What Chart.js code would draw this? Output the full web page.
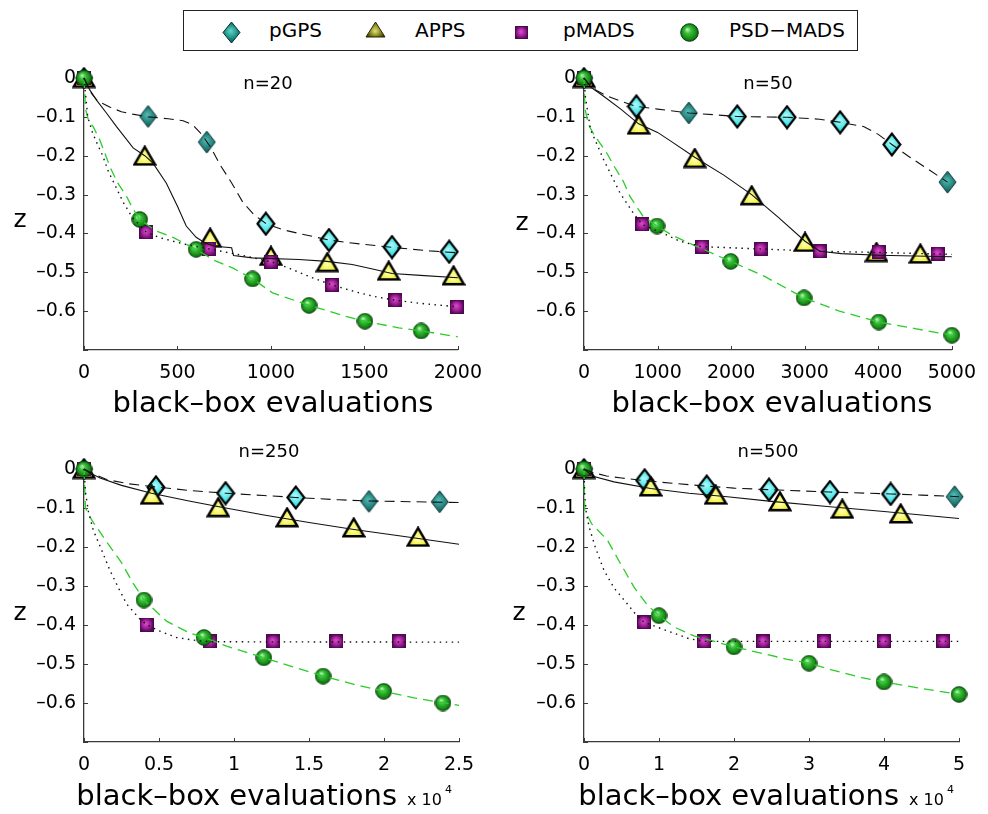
<!DOCTYPE html>
<html>
<head>
<meta charset="utf-8">
<script src="https://cdn.jsdelivr.net/npm/chart.js@4.4.1/dist/chart.umd.min.js"></script>
<style>
  html, body { margin: 0; padding: 0; background: #fff; }
  body { width: 988px; height: 814px; position: relative; overflow: hidden; font-family: "DejaVu Sans", sans-serif; }
  canvas.panel { position: absolute; }
  #legend { position: absolute; left: 183px; top: 10px; width: 673px; height: 39px; border: 1px solid #222; background: #fff; }
  #legend span { position: absolute; top: 0; line-height: 39px; font-size: 20px; color: #000; white-space: nowrap; }
  #legend canvas { position: absolute; }
</style>
</head>
<body>
<div id="legend"></div>
<canvas id="p20" class="panel"></canvas>
<canvas id="p50" class="panel"></canvas>
<canvas id="p250" class="panel"></canvas>
<canvas id="p500" class="panel"></canvas>
<script>
// series + labels
const seriesNames = ['pGPS', 'APPS', 'pMADS', 'PSD\u2212MADS'];
const panelTitles = ['n=20', 'n=50', 'n=250', 'n=500'];
const xTitle = 'black\u2013box evaluations';
const yTitle = 'z';

// n=20 (x = evaluations)
const n20_pGPS_curve = [[0,0],[40,-0.04],[75,-0.06],[140,-0.075],[200,-0.087],[260,-0.093],[343,-0.1],[450,-0.105],[530,-0.11],[580,-0.12],[630,-0.145],[680,-0.18],[730,-0.225],[790,-0.27],[850,-0.32],[910,-0.352],[975,-0.375],[1060,-0.39],[1150,-0.4],[1310,-0.417],[1420,-0.424],[1650,-0.436],[1850,-0.445],[2000,-0.45]];
const n20_pGPS_marks = [[0,0],[343,-0.099],[657,-0.165],[973,-0.375],[1311,-0.417],[1648,-0.435],[1954,-0.447]];
const n20_APPS_curve = [[0,0],[30,-0.03],[67,-0.057],[120,-0.09],[174,-0.125],[263,-0.18],[325,-0.2],[369,-0.219],[440,-0.27],[500,-0.33],[547,-0.381],[600,-0.41],[650,-0.425],[700,-0.433],[790,-0.437],[800,-0.457],[900,-0.463],[1150,-0.467],[1300,-0.472],[1435,-0.48],[1550,-0.492],[1648,-0.503],[1800,-0.508],[2000,-0.514]];
const n20_APPS_marks = [[0,0],[325,-0.2],[675,-0.411],[1000,-0.458],[1302,-0.474],[1630,-0.496],[1977,-0.508]];
const n20_pMADS_curve = [[0,0],[10,-0.05],[20,-0.1],[45,-0.14],[67,-0.165],[100,-0.2],[130,-0.24],[170,-0.28],[210,-0.32],[260,-0.36],[334,-0.397],[400,-0.41],[476,-0.42],[560,-0.43],[671,-0.44],[800,-0.452],[900,-0.462],[1000,-0.473],[1100,-0.49],[1200,-0.51],[1328,-0.533],[1450,-0.55],[1550,-0.562],[1666,-0.572],[1800,-0.58],[2000,-0.589]];
const n20_pMADS_marks = [[0,0],[334,-0.397],[671,-0.44],[1000,-0.473],[1328,-0.533],[1666,-0.572],[1994,-0.589]];
const n20_PSD_curve = [[0,0],[8,-0.08],[25,-0.11],[50,-0.126],[85,-0.16],[112,-0.194],[139,-0.229],[180,-0.27],[227,-0.304],[260,-0.335],[298,-0.364],[387,-0.394],[476,-0.41],[600,-0.441],[700,-0.47],[800,-0.49],[902,-0.517],[1009,-0.553],[1204,-0.585],[1399,-0.613],[1503,-0.626],[1684,-0.643],[1804,-0.651],[2000,-0.666]];
const n20_PSD_marks = [[0,0],[298,-0.364],[600,-0.441],[902,-0.517],[1204,-0.585],[1503,-0.626],[1804,-0.651]];

// n=50 (x = evaluations)
const n50_pGPS_curve = [[0,0],[100,-0.025],[300,-0.045],[500,-0.06],[712,-0.073],[1000,-0.08],[1425,-0.09],[1800,-0.095],[2084,-0.099],[2760,-0.101],[3200,-0.106],[3482,-0.114],[3800,-0.125],[4000,-0.145],[4185,-0.171],[4400,-0.2],[4600,-0.225],[4942,-0.268]];
const n50_pGPS_marks = [[0,0],[712,-0.073],[1425,-0.09],[2084,-0.099],[2760,-0.101],[3482,-0.114],[4185,-0.171],[4942,-0.268]];
const n50_APPS_curve = [[0,0],[100,-0.025],[267,-0.047],[500,-0.08],[743,-0.118],[1000,-0.14],[1200,-0.165],[1505,-0.204],[1900,-0.25],[2279,-0.3],[2650,-0.36],[3005,-0.42],[3206,-0.446],[3500,-0.452],[4000,-0.456],[4500,-0.458],[5000,-0.46]];
const n50_APPS_marks = [[0,0],[743,-0.12],[1505,-0.206],[2279,-0.302],[3005,-0.422],[3976,-0.448],[4572,-0.452]];
const n50_pMADS_curve = [[0,0],[20,-0.05],[89,-0.133],[267,-0.21],[490,-0.296],[668,-0.347],[792,-0.377],[1113,-0.403],[1300,-0.42],[1603,-0.434],[2404,-0.44],[3206,-0.446],[4007,-0.449],[5000,-0.454]];
const n50_pMADS_marks = [[0,0],[792,-0.377],[1603,-0.434],[2404,-0.44],[3206,-0.446],[4007,-0.447],[4808,-0.452]];
const n50_PSD_curve = [[0,0],[15,-0.08],[60,-0.12],[150,-0.15],[300,-0.19],[423,-0.231],[534,-0.266],[623,-0.304],[712,-0.33],[800,-0.355],[993,-0.381],[1200,-0.405],[1469,-0.428],[1994,-0.472],[2449,-0.51],[2992,-0.566],[3472,-0.6],[4007,-0.628],[4500,-0.645],[5000,-0.662]];
const n50_PSD_marks = [[0,0],[993,-0.381],[1994,-0.472],[2992,-0.566],[4007,-0.628],[5000,-0.662]];

// n=250 (x = evaluations / 10^4)
const n250_pGPS_curve = [[0,0],[0.05,-0.01],[0.151,-0.027],[0.3,-0.038],[0.48,-0.046],[0.7,-0.055],[0.944,-0.062],[1.2,-0.068],[1.412,-0.073],[1.7,-0.079],[1.9,-0.082],[2.2,-0.084],[2.5,-0.086]];
const n250_pGPS_marks = [[0,0],[0.48,-0.047],[0.944,-0.062],[1.412,-0.073],[1.9,-0.083],[2.371,-0.084]];
const n250_APPS_curve = [[0,0],[0.03,-0.008],[0.107,-0.023],[0.25,-0.042],[0.45,-0.062],[0.7,-0.082],[0.9,-0.097],[1.2,-0.118],[1.5,-0.137],[1.8,-0.155],[2.1,-0.171],[2.5,-0.193]];
const n250_APPS_marks = [[0,0],[0.451,-0.066],[0.895,-0.098],[1.354,-0.124],[1.798,-0.15],[2.227,-0.174]];
const n250_pMADS_curve = [[0,0],[0.01,-0.06],[0.03,-0.11],[0.062,-0.157],[0.12,-0.21],[0.173,-0.26],[0.23,-0.305],[0.284,-0.346],[0.373,-0.385],[0.417,-0.399],[0.5,-0.415],[0.617,-0.432],[0.75,-0.44],[0.85,-0.443],[2.5,-0.444]];
const n250_pMADS_marks = [[0,0],[0.417,-0.399],[0.839,-0.442],[1.261,-0.442],[1.683,-0.442],[2.1,-0.442]];
const n250_PSD_curve = [[0,0],[0.005,-0.05],[0.01,-0.1],[0.05,-0.13],[0.151,-0.187],[0.25,-0.24],[0.329,-0.294],[0.4,-0.336],[0.55,-0.39],[0.7,-0.42],[0.8,-0.432],[0.95,-0.454],[1.199,-0.484],[1.372,-0.505],[1.594,-0.531],[1.8,-0.552],[1.998,-0.57],[2.2,-0.587],[2.5,-0.606]];
const n250_PSD_marks = [[0,0],[0.4,-0.336],[0.8,-0.432],[1.199,-0.484],[1.594,-0.531],[1.998,-0.57],[2.393,-0.6]];

// n=500 (x = evaluations / 10^4)
const n500_pGPS_curve = [[0,0],[0.1,-0.008],[0.3,-0.018],[0.5,-0.023],[0.809,-0.03],[1.2,-0.037],[1.636,-0.044],[2,-0.049],[2.467,-0.053],[3.28,-0.059],[4.089,-0.064],[4.5,-0.067],[5,-0.071]];
const n500_pGPS_marks = [[0,0],[0.809,-0.029],[1.636,-0.045],[2.467,-0.053],[3.28,-0.059],[4.089,-0.064],[4.942,-0.071]];
const n500_APPS_curve = [[0,0],[0.05,-0.008],[0.133,-0.019],[0.4,-0.033],[0.889,-0.05],[1.4,-0.062],[1.911,-0.071],[2.5,-0.083],[3.244,-0.096],[4,-0.109],[4.5,-0.118],[5,-0.127]];
const n500_APPS_marks = [[0,0],[0.889,-0.045],[1.756,-0.066],[2.613,-0.083],[3.444,-0.102],[4.222,-0.114]];
const n500_pMADS_curve = [[0,0],[0.01,-0.07],[0.03,-0.11],[0.067,-0.148],[0.15,-0.2],[0.267,-0.26],[0.4,-0.305],[0.578,-0.346],[0.7,-0.375],[0.8,-0.393],[1.111,-0.415],[1.4,-0.435],[1.6,-0.442],[5,-0.442]];
const n500_pMADS_marks = [[0,0],[0.8,-0.393],[1.6,-0.442],[2.391,-0.442],[3.2,-0.442],[4,-0.442],[4.791,-0.442]];
const n500_PSD_curve = [[0,0],[0.005,-0.06],[0.01,-0.105],[0.1,-0.14],[0.311,-0.182],[0.45,-0.23],[0.667,-0.303],[0.85,-0.35],[1,-0.376],[1.2,-0.405],[1.467,-0.428],[2,-0.456],[2.711,-0.488],[3,-0.498],[3.3,-0.515],[3.7,-0.535],[4,-0.546],[4.5,-0.563],[5,-0.578]];
const n500_PSD_marks = [[0,0],[1,-0.376],[2,-0.456],[3,-0.498],[4,-0.546],[5,-0.578]];

// axis ranges
const xMaxes = [2000, 5000, 2.5, 5];
const xSteps = [500, 1000, 0.5, 1];
const xExponents = ['', '', '4', '4'];

Chart.defaults.font.family = '"DejaVu Sans", sans-serif';

// ---- marker images (shaded like the 3d matlab markers)
function makeMarker(w, h, paint) {
  const c = document.createElement('canvas');
  c.width = w; c.height = h;
  paint(c.getContext('2d'), w, h);
  return c;
}
function shade(ctx, w, h, cx, cy, stops) {
  const g = ctx.createRadialGradient(cx, cy, 0.5, w / 2, h / 2, Math.max(w, h) / 2);
  stops.forEach(([o, col]) => g.addColorStop(o, col));
  return g;
}
function diamond(w, h, stops, stroke, lw) {
  return makeMarker(w, h, (ctx) => {
    const m = lw / 2 + 0.5;
    ctx.beginPath();
    ctx.moveTo(w / 2, m); ctx.lineTo(w - m, h / 2); ctx.lineTo(w / 2, h - m); ctx.lineTo(m, h / 2);
    ctx.closePath();
    ctx.fillStyle = shade(ctx, w, h, w * 0.45, h * 0.42, stops);
    ctx.fill();
    ctx.lineWidth = lw; ctx.strokeStyle = stroke; ctx.stroke();
  });
}
function triangle(w, h, stops, stroke, lw) {
  return makeMarker(w, h, (ctx) => {
    const m = lw / 2 + 0.5;
    ctx.beginPath();
    ctx.moveTo(w / 2, m); ctx.lineTo(w - m, h - m); ctx.lineTo(m, h - m);
    ctx.closePath();
    ctx.fillStyle = shade(ctx, w, h, w * 0.48, h * 0.6, stops);
    ctx.fill();
    ctx.lineWidth = lw; ctx.lineJoin = 'miter'; ctx.strokeStyle = stroke; ctx.stroke();
  });
}
function square(w, stops, stroke) {
  return makeMarker(w, w, (ctx) => {
    ctx.fillStyle = shade(ctx, w, w, w * 0.45, w * 0.42, stops);
    ctx.fillRect(0.5, 0.5, w - 1, w - 1);
    ctx.lineWidth = 1; ctx.strokeStyle = stroke; ctx.strokeRect(0.5, 0.5, w - 1, w - 1);
  });
}
function ball(w, h, stops, stroke) {
  return makeMarker(w, h, (ctx) => {
    ctx.beginPath();
    ctx.ellipse(w / 2, h / 2, w / 2 - 0.7, h / 2 - 0.7, 0, 0, Math.PI * 2);
    const g = ctx.createRadialGradient(w * 0.38, h * 0.34, 0.5, w / 2, h / 2, w / 2);
    stops.forEach(([o, col]) => g.addColorStop(o, col));
    ctx.fillStyle = g; ctx.fill();
    ctx.lineWidth = 1; ctx.strokeStyle = stroke; ctx.stroke();
  });
}

const cyanStops = [[0, '#a8fafa'], [0.6, '#45e2e6'], [1, '#1cc6cf']];
const tealStops = [[0, '#52b9b0'], [0.55, '#23807c'], [1, '#0c4a48']];
const yellowStops = [[0, '#ffffa8'], [0.6, '#f4f44c'], [1, '#d4d424']];
const oliveStops = [[0, '#d8d870'], [0.5, '#8a8a22'], [1, '#3a3a06']];
const magentaStops = [[0, '#d24cc6'], [0.55, '#a4209a'], [1, '#5a0a5c']];
const greenStops = [[0, '#b4f4b4'], [0.3, '#3cc03c'], [0.75, '#168a16'], [1, '#0a520a']];

const mk = {
  diaC: diamond(20, 25, cyanStops, '#000', 2.2),
  diaD: diamond(19, 24, tealStops, '#0b3535', 1),
  tri: triangle(24, 21, yellowStops, '#000', 2.4),
  sq: square(14, magentaStops, '#4a0a4c'),
  ball: ball(17, 17, greenStops, '#0a3f0a')
};

// which pGPS diamonds render dark / light in the reference
const gpsShades = ['DDDCCCC', 'DCDCCCCD', 'DCCCDD', 'DCCCCCD'];

// ---- legend
const legendMarks = [
  diamond(19, 23, [[0, '#5cd3c2'], [0.5, '#22958c'], [1, '#0a3f3d']], '#082e2e', 1),
  triangle(21, 17, oliveStops, '#262604', 1),
  square(13, magentaStops, '#4a0a4c'),
  ball(19, 19, greenStops, '#0a3f0a')
];
const legendMarkAt = [[47, 21], [191, 18], [337, 21], [505, 21]];
const legendTextAt = [85, 231, 379, 545];
const legendEl = document.getElementById('legend');
seriesNames.forEach((name, i) => {
  const m = legendMarks[i];
  m.style.left = (legendMarkAt[i][0] - m.width / 2) + 'px';
  m.style.top = (legendMarkAt[i][1] - m.height / 2) + 'px';
  legendEl.appendChild(m);
  const s = document.createElement('span');
  s.textContent = name;
  s.style.left = legendTextAt[i] + 'px';
  legendEl.appendChild(s);
});

// ---- panels (page positions)
const panels = [
  { id: 'p20', box: {x: 0, y: 55, w: 494, h: 370}, area: {l: 84, t: 78, r: 460, b: 350},
    titleAt: [268, 89], zAt: [20, 227], xTitleAt: [273, 412],
    curves: [n20_pGPS_curve, n20_APPS_curve, n20_pMADS_curve, n20_PSD_curve],
    marks: [n20_pGPS_marks, n20_APPS_marks, n20_pMADS_marks, n20_PSD_marks] },
  { id: 'p50', box: {x: 494, y: 55, w: 494, h: 370}, area: {l: 584, t: 78, r: 958, b: 350},
    titleAt: [768, 89], zAt: [522, 230], xTitleAt: [772, 412],
    curves: [n50_pGPS_curve, n50_APPS_curve, n50_pMADS_curve, n50_PSD_curve],
    marks: [n50_pGPS_marks, n50_APPS_marks, n50_pMADS_marks, n50_PSD_marks] },
  { id: 'p250', box: {x: 0, y: 430, w: 494, h: 384}, area: {l: 84, t: 469, r: 459, b: 742},
    titleAt: [269, 457], zAt: [20, 620], xTitleAt: [397, 805],
    curves: [n250_pGPS_curve, n250_APPS_curve, n250_pMADS_curve, n250_PSD_curve],
    marks: [n250_pGPS_marks, n250_APPS_marks, n250_pMADS_marks, n250_PSD_marks] },
  { id: 'p500', box: {x: 494, y: 430, w: 494, h: 384}, area: {l: 584, t: 469, r: 959, b: 742},
    titleAt: [768, 457], zAt: [519, 620], xTitleAt: [899, 805],
    curves: [n500_pGPS_curve, n500_APPS_curve, n500_pMADS_curve, n500_PSD_curve],
    marks: [n500_pGPS_marks, n500_APPS_marks, n500_pMADS_marks, n500_PSD_marks] }
];

const axisColor = '#3a3a3a';

// small inward tick marks like matlab
const inwardTicks = {
  id: 'inwardTicks',
  beforeDatasetsDraw(chart) {
    const {ctx, chartArea: a, scales: {x, y}} = chart;
    ctx.save();
    ctx.strokeStyle = axisColor;
    ctx.lineWidth = 1;
    ctx.beginPath();
    x.ticks.forEach(t => {
      const px = Math.round(x.getPixelForValue(t.value)) + 0.5;
      ctx.moveTo(px, a.bottom); ctx.lineTo(px, a.bottom - 4);
    });
    y.ticks.forEach(t => {
      const py = Math.round(y.getPixelForValue(t.value)) + 0.5;
      ctx.moveTo(a.left, py); ctx.lineTo(a.left + 4, py);
    });
    ctx.stroke();
    ctx.restore();
  }
};

function panelText(p, i) {
  return {
    id: 'panelText',
    afterDraw(chart) {
      const ctx = chart.ctx;
      const ox = p.box.x, oy = p.box.y;
      ctx.save();
      ctx.fillStyle = '#000';
      ctx.textBaseline = 'alphabetic';
      ctx.textAlign = 'center';
      ctx.font = '18px "DejaVu Sans"';
      ctx.fillText(panelTitles[i], p.titleAt[0] - ox, p.titleAt[1] - oy);
      ctx.font = '25px "DejaVu Sans"';
      ctx.fillText(yTitle, p.zAt[0] - ox, p.zAt[1] - oy);
      ctx.font = '29px "DejaVu Sans"';
      if (xExponents[i]) {
        ctx.textAlign = 'right';
        ctx.fillText(xTitle, p.xTitleAt[0] - ox, p.xTitleAt[1] - oy);
        ctx.textAlign = 'left';
        ctx.font = '16px "DejaVu Sans"';
        const ex = p.xTitleAt[0] + 10 - ox, ey = p.xTitleAt[1] - oy;
        ctx.fillText('x 10', ex, ey);
        const w = ctx.measureText('x 10').width;
        ctx.font = '11px "DejaVu Sans"';
        ctx.fillText(xExponents[i], ex + w + 3, ey - 12);
      } else {
        ctx.fillText(xTitle, p.xTitleAt[0] - ox, p.xTitleAt[1] - oy);
      }
      ctx.restore();
    }
  };
}

const toPts = arr => arr.map(([x, y]) => ({x, y}));
const lineStyles = [
  {color: '#111', dash: [10, 6], width: 1.1},
  {color: '#111', dash: [], width: 1.1},
  {color: '#111', dash: [1.5, 4.5], width: 1.4},
  {color: '#2bcc2b', dash: [10, 6], width: 1.3}
];

panels.forEach((p, i) => {
  const cv = document.getElementById(p.id);
  cv.width = p.box.w; cv.height = p.box.h;
  cv.style.left = p.box.x + 'px'; cv.style.top = p.box.y + 'px';

  const lines = p.curves.map((c, k) => ({
    label: seriesNames[k],
    data: toPts(c),
    showLine: true,
    borderColor: lineStyles[k].color,
    borderDash: lineStyles[k].dash,
    borderWidth: lineStyles[k].width,
    pointRadius: 0,
    tension: 0,
    clip: false
  }));
  const gpsStyle = gpsShades[i].split('').map(s => s === 'C' ? mk.diaC : mk.diaD);
  const markStyles = [gpsStyle, mk.tri, mk.sq, mk.ball];
  // draw order: circles on top, diamonds at the bottom
  const marks = [3, 2, 1, 0].map(k => ({
    label: seriesNames[k] + ' markers',
    data: toPts(p.marks[k]),
    showLine: false,
    pointStyle: markStyles[k],
    pointRadius: 8,
    clip: false
  }));

  const yW = p.area.l - p.box.x;
  const xH = p.box.y + p.box.h - p.area.b;

  new Chart(cv, {
    type: 'scatter',
    data: { datasets: [...lines, ...marks] },
    options: {
      responsive: false,
      animation: false,
      events: [],
      layout: { padding: { left: 0, top: p.area.t - p.box.y, right: p.box.x + p.box.w - p.area.r, bottom: 0 } },
      plugins: { legend: { display: false }, tooltip: { enabled: false } },
      scales: {
        x: {
          type: 'linear', min: 0, max: xMaxes[i],
          grid: { display: false, drawTicks: false },
          border: { display: true, color: axisColor, width: 1.3 },
          ticks: {
            stepSize: xSteps[i], padding: 12, color: '#000', maxRotation: 0, autoSkip: false,
            font: { size: 19 },
            callback: v => String(Math.round(v * 100) / 100)
          },
          afterFit: s => { s.height = xH; }
        },
        y: {
          type: 'linear', min: -0.7, max: 0,
          grid: { display: false, drawTicks: false },
          border: { display: true, color: axisColor, width: 1.3 },
          ticks: {
            stepSize: 0.1, padding: 8, color: '#000', autoSkip: false,
            font: { size: 19 },
            callback: v => {
              const r = Math.round(v * 10) / 10;
              if (r === 0) return '0';
              if (r < -0.65) return '';
              return '\u2013' + Math.abs(r).toFixed(1);
            }
          },
          afterFit: s => { s.width = yW; }
        }
      }
    },
    plugins: [inwardTicks, panelText(p, i)]
  });
});
</script>
</body>
</html>
